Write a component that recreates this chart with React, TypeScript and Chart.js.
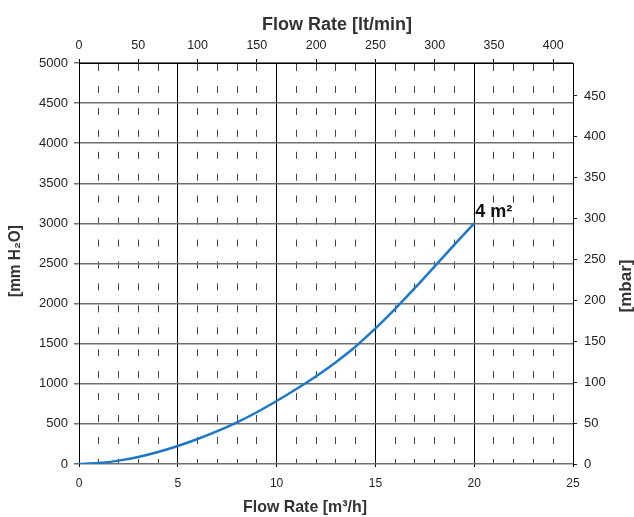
import { useEffect, useRef } from "react";
import { Chart, registerables } from "chart.js";

Chart.register(...registerables);

// ---- data ----
const FLOW_M3H = [0, 1, 2, 3, 4, 5, 6, 7, 8, 9, 10, 11, 12, 13, 14, 15, 16, 17, 18, 19, 20];
const PRESSURE_MMH2O = [0, 12, 42, 88, 150, 225, 312, 410, 520, 645, 785, 935, 1095, 1270, 1465, 1690, 1935, 2195, 2465, 2735, 3000];
const CURVE_LABEL = "4 m²";

const TOP_TITLE = "Flow Rate [lt/min]";
const BOTTOM_TITLE = "Flow Rate [m³/h]";
const LEFT_TITLE = "[mm H₂O]";
const RIGHT_TITLE = "[mbar]";

const M3H_MIN = 0;
const M3H_MAX = 25;
const M3H_STEP = 1;
const M3H_LABEL_EVERY = 5;
const MMH2O_MIN = 0;
const MMH2O_MAX = 5000;
const MMH2O_STEP = 500;
const LPM_STEP = 50;
const MBAR_STEP = 50;
const LPM_PER_M3H = 1000 / 60;
const MBAR_PER_MMH2O = 0.0980665;

const FONT = "'Liberation Sans', Arial, Helvetica, sans-serif";

const plain = (v: any) => String(Math.round(Number(v) * 1000) / 1000);

const textPlugin = {
  id: "textPlugin",
  afterDraw(chart: any) {
    const ctx = chart.ctx as CanvasRenderingContext2D;
    ctx.save();
    const meta = chart.getDatasetMeta(0);
    const pt = meta.data[meta.data.length - 1];
    if (pt) {
      ctx.fillStyle = "#111";
      ctx.font = `bold 18px ${FONT}`;
      ctx.textAlign = "left";
      ctx.textBaseline = "alphabetic";
      ctx.fillText(CURVE_LABEL, pt.x + 1, pt.y - 6);
    }
    ctx.fillStyle = "#333";
    ctx.textAlign = "center";
    ctx.textBaseline = "alphabetic";
    ctx.font = `bold 18px ${FONT}`;
    ctx.fillText(TOP_TITLE, 337, 29.5, 150);
    ctx.font = `bold 17px ${FONT}`;
    ctx.fillText(BOTTOM_TITLE, 305, 512, 124);

    ctx.save();
    ctx.translate(20, 261);
    ctx.rotate(-Math.PI / 2);
    ctx.font = `bold 17px ${FONT}`;
    ctx.fillText(LEFT_TITLE, 0, 0, 72);
    ctx.restore();

    ctx.save();
    ctx.translate(631, 286);
    ctx.rotate(-Math.PI / 2);
    ctx.font = `bold 17px ${FONT}`;
    ctx.fillText(RIGHT_TITLE, 0, 0, 54);
    ctx.restore();

    ctx.restore();
  },
};

export default function App() {
  const ref = useRef<HTMLCanvasElement | null>(null);

  useEffect(() => {
    if (!ref.current) return;
    const isMajor = (v: number) => Math.abs(v % M3H_LABEL_EVERY) < 1e-9;
    const chart = new Chart(ref.current, {
      type: "line",
      data: {
        datasets: [
          {
            data: FLOW_M3H.map((x, i) => ({ x, y: PRESSURE_MMH2O[i] })),
            borderColor: "#1e78c8",
            borderWidth: 2.5,
            pointRadius: 0,
            fill: false,
            tension: 0.4,
            cubicInterpolationMode: "monotone",
            xAxisID: "x",
            yAxisID: "y",
          },
        ],
      },
      options: {
        animation: false,
        responsive: false,
        maintainAspectRatio: false,
        layout: { padding: 0 },
        plugins: {
          legend: { display: false },
          tooltip: { enabled: false },
        },
        scales: {
          x: {
            type: "linear",
            position: "bottom",
            min: M3H_MIN,
            max: M3H_MAX,
            afterFit: (s: any) => {
              s.height = 53;
            },
            ticks: {
              stepSize: M3H_STEP,
              autoSkip: false,
              maxRotation: 0,
              padding: 9.8,
              color: "#222",
              font: { family: FONT, size: 12 },
              callback: (v: any) => (isMajor(Number(v)) ? plain(v) : ""),
            },
            grid: {
              color: (c: any) => (c.tick && isMajor(c.tick.value) ? "#000" : "#444"),
              lineWidth: 1,
              tickLength: 3,
              tickColor: (c: any) => (c.tick && isMajor(c.tick.value) ? "#000" : "rgba(0,0,0,0)"),
            },
            border: {
              display: false,
              dash: (c: any) => (c.tick && !isMajor(c.tick.value) ? [7, 14.94] : []),
              dashOffset: -1,
            },
          },
          x2: {
            type: "linear",
            position: "top",
            min: M3H_MIN * LPM_PER_M3H,
            max: M3H_MAX * LPM_PER_M3H,
            afterFit: (s: any) => {
              s.height = 63;
            },
            ticks: {
              stepSize: LPM_STEP,
              includeBounds: false,
              autoSkip: false,
              maxRotation: 0,
              padding: 5.8,
              color: "#222",
              font: { family: FONT, size: 12.5 },
              callback: plain,
            },
            grid: {
              drawOnChartArea: false,
              tickLength: 4,
              tickColor: "#000",
            },
            border: { display: true, color: "#000", width: 1 },
          },
          y: {
            type: "linear",
            position: "left",
            min: MMH2O_MIN,
            max: MMH2O_MAX,
            afterFit: (s: any) => {
              s.width = 79;
            },
            ticks: {
              stepSize: MMH2O_STEP,
              autoSkip: false,
              padding: 6,
              color: "#222",
              font: { family: FONT, size: 13 },
              callback: plain,
            },
            grid: {
              color: "#707070",
              lineWidth: 1.5,
              tickLength: 5,
              tickColor: "#707070",
            },
            border: { display: true, color: "#000", width: 1 },
          },
          y2: {
            type: "linear",
            position: "right",
            min: MMH2O_MIN * MBAR_PER_MMH2O,
            max: MMH2O_MAX * MBAR_PER_MMH2O,
            afterFit: (s: any) => {
              s.width = 61;
            },
            ticks: {
              stepSize: MBAR_STEP,
              includeBounds: false,
              autoSkip: false,
              padding: 7,
              color: "#222",
              font: { family: FONT, size: 13 },
              callback: plain,
            },
            grid: {
              drawOnChartArea: false,
              tickLength: 4,
              tickColor: "#222",
            },
            border: { display: true, color: "#000", width: 1 },
          },
        },
      } as any,
      plugins: [textPlugin],
    });
    return () => chart.destroy();
  }, []);

  return (
    <div style={{ position: "fixed", left: 0, top: 0, width: 634, height: 517, background: "#fff" }}>
      <canvas ref={ref} width={634} height={517} style={{ width: 634, height: 517, display: "block" }} />
    </div>
  );
}
